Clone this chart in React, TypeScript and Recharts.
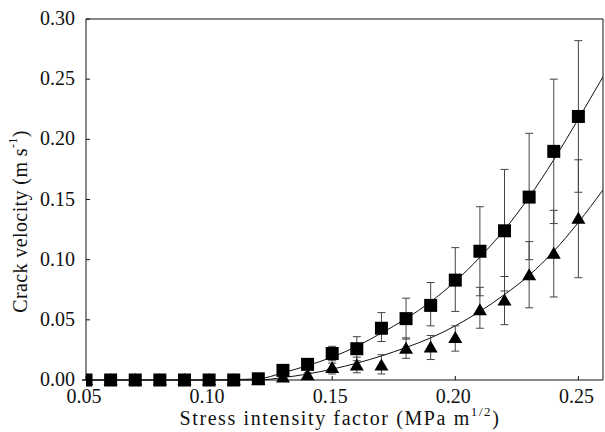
import { ComposedChart, Line, Scatter, ErrorBar, XAxis, YAxis, ReferenceLine, Label } from 'recharts';

// stress intensity factor (MPa m^1/2)
const kValues = [0.05, 0.06, 0.07, 0.08, 0.09, 0.1, 0.11, 0.12, 0.13, 0.14, 0.15, 0.16, 0.17, 0.18, 0.19, 0.2, 0.21, 0.22, 0.23, 0.24, 0.25];

// squares
const squareMean = [0, 0, 0, 0, 0, 0, 0, 0.001, 0.008, 0.013, 0.022, 0.026, 0.043, 0.051, 0.062, 0.083, 0.107, 0.124, 0.152, 0.19, 0.219];
const squareUpper = [0, 0, 0, 0, 0, 0, 0, 0.001, 0.01, 0.017, 0.028, 0.036, 0.056, 0.068, 0.081, 0.11, 0.144, 0.175, 0.205, 0.25, 0.282];
const squareLower = [0, 0, 0, 0, 0, 0, 0, 0.001, 0.006, 0.009, 0.016, 0.016, 0.032, 0.034, 0.045, 0.057, 0.07, 0.074, 0.1, 0.13, 0.156];

// triangles
const triMean = [0, 0, 0, 0, 0, 0, 0, 0, 0.002, 0.004, 0.01, 0.012, 0.012, 0.026, 0.027, 0.035, 0.058, 0.066, 0.087, 0.105, 0.134];
const triUpper = [0, 0, 0, 0, 0, 0, 0, 0, 0.003, 0.006, 0.014, 0.019, 0.021, 0.035, 0.037, 0.045, 0.077, 0.086, 0.115, 0.141, 0.183];
const triLower = [0, 0, 0, 0, 0, 0, 0, 0, 0.001, 0.002, 0.005, 0.006, 0.005, 0.018, 0.017, 0.024, 0.043, 0.046, 0.06, 0.069, 0.085];

// fitted curves
const curveK = [0.05, 0.1, 0.12, 0.13, 0.14, 0.15, 0.16, 0.17, 0.18, 0.19, 0.2, 0.21, 0.22, 0.23, 0.24, 0.25, 0.26];
const squareCurve = [0, 0, 0.001, 0.006, 0.012, 0.019, 0.028, 0.039, 0.051, 0.065, 0.082, 0.102, 0.125, 0.152, 0.183, 0.217, 0.252];
const triCurve = [0, 0, 0, 0.002, 0.005, 0.009, 0.014, 0.02, 0.027, 0.035, 0.045, 0.057, 0.071, 0.087, 0.107, 0.131, 0.158];

const xTicks = [0.05, 0.1, 0.15, 0.2, 0.25];
const yTicks = [0, 0.05, 0.1, 0.15, 0.2, 0.25, 0.3];

const squareData = kValues.map((k, i) => ({
  k,
  v: squareMean[i],
  err: [squareMean[i] - squareLower[i], squareUpper[i] - squareMean[i]],
}));
const triData = kValues.map((k, i) => ({
  k,
  v: triMean[i],
  err: [triMean[i] - triLower[i], triUpper[i] - triMean[i]],
}));
const squareLine = curveK.map((k, i) => ({ k, v: squareCurve[i] }));
const triLine = curveK.map((k, i) => ({ k, v: triCurve[i] }));

const FONT = "'Liberation Serif', 'Times New Roman', Times, serif";

const XTick = (props: any) => {
  const { x, y, payload } = props;
  return (
    <text x={x - 2} y={y + 27} textAnchor="middle" style={{ fontFamily: FONT, fontSize: 20, fill: '#111' }}>
      {Number(payload.value).toFixed(2)}
    </text>
  );
};

const YTick = (props: any) => {
  const { x, y, payload } = props;
  return (
    <text x={x - 15} y={y + 6} textAnchor="end" style={{ fontFamily: FONT, fontSize: 20, fill: '#111' }}>
      {Number(payload.value).toFixed(2)}
    </text>
  );
};

const SquareDot = (props: any) => {
  const { cx, cy } = props;
  if (cx == null || cy == null) return null;
  return <rect x={cx - 6.5} y={cy - 6.5} width={13} height={13} fill="#000" />;
};

const TriangleDot = (props: any) => {
  const { cx, cy } = props;
  if (cx == null || cy == null) return null;
  return <polygon points={`${cx},${cy - 7} ${cx - 7},${cy + 5} ${cx + 7},${cy + 5}`} fill="#000" />;
};

const YLabel = (props: any) => {
  const vb = props.viewBox || {};
  const cx = 20;
  const cy = (vb.y || 19) + (vb.height || 361) / 2 + 22;
  return (
    <text
      x={cx}
      y={cy}
      transform={`rotate(-90, ${cx}, ${cy})`}
      textAnchor="middle"
      dominantBaseline="central"
      style={{ fontFamily: FONT, fontSize: 20, fill: '#111', letterSpacing: 0.4 }}
    >
      Crack velocity (m s
      <tspan dy={-7} fontSize={12}>-1</tspan>
      <tspan dy={7}>)</tspan>
    </text>
  );
};

const XLabel = () => (
  <text x={340} y={425} textAnchor="middle" style={{ fontFamily: FONT, fontSize: 20, fill: '#111', letterSpacing: 1.6 }}>
    Stress intensity factor (MPa m
    <tspan dy={-9} fontSize={13}>1/2</tspan>
    <tspan dy={9}>)</tspan>
  </text>
);

export default function App() {
  return (
    <div style={{ position: 'absolute', left: 0, top: 0, width: 605, height: 432, background: '#fff' }}>
      <ComposedChart width={605} height={432} margin={{ top: 19, right: 2, bottom: 0, left: 0 }}>
        <XAxis
          type="number"
          dataKey="k"
          domain={[0.05, 0.26]}
          ticks={xTicks}
          allowDataOverflow
          tick={<XTick />}
          tickSize={-4}
          tickMargin={0}
          height={52}
          axisLine={{ stroke: '#111' }}
          tickLine={{ stroke: '#111' }}
        >
          <Label content={<XLabel />} />
        </XAxis>
        <YAxis
          type="number"
          domain={[0, 0.3]}
          ticks={yTicks}
          tick={<YTick />}
          tickSize={-4}
          tickMargin={0}
          width={86}
          axisLine={{ stroke: '#111' }}
          tickLine={{ stroke: '#111' }}
        >
          <Label content={<YLabel />} />
        </YAxis>
        <ReferenceLine y={0.3} stroke="#111" strokeWidth={1} />
        <ReferenceLine x={0.26} stroke="#111" strokeWidth={1} />
        <Line data={squareLine} dataKey="v" type="monotone" stroke="#111" strokeWidth={1} dot={false} isAnimationActive={false} />
        <Line data={triLine} dataKey="v" type="monotone" stroke="#111" strokeWidth={1} dot={false} isAnimationActive={false} />
        <Scatter data={triData} dataKey="v" shape={<TriangleDot />} isAnimationActive={false}>
          <ErrorBar dataKey="err" direction="y" width={4} stroke="#444" strokeWidth={1} />
        </Scatter>
        <Scatter data={squareData} dataKey="v" shape={<SquareDot />} isAnimationActive={false}>
          <ErrorBar dataKey="err" direction="y" width={4} stroke="#444" strokeWidth={1} />
        </Scatter>
      </ComposedChart>
    </div>
  );
}
